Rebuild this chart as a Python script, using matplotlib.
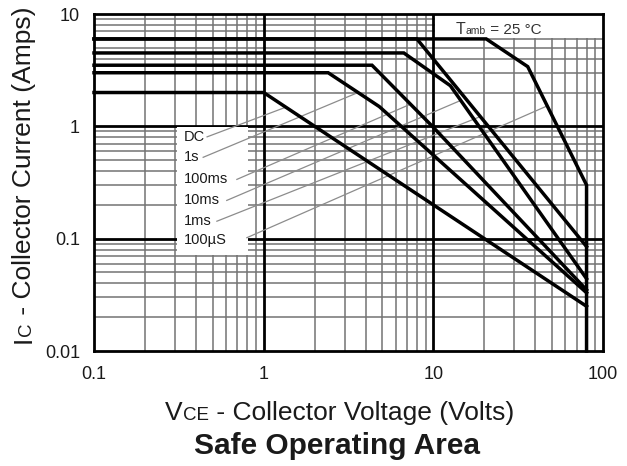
import matplotlib
matplotlib.use("Agg")
import matplotlib.pyplot as plt
from matplotlib.patches import Rectangle
from matplotlib.ticker import LogLocator, FixedLocator, FixedFormatter, NullFormatter

plt.rcParams['font.family'] = ['Liberation Sans', 'DejaVu Sans']

# SOA curves (volts, amps)
dc_v = [0.1, 1.0, 80]
dc_i = [2.0, 2.0, 0.025]
s1_v = [0.1, 2.4, 4.8, 80]
s1_i = [3.0, 3.0, 1.5, 0.033]
ms100_v = [0.1, 4.35, 10, 80]
ms100_i = [3.5, 3.5, 0.98, 0.035]
ms10_v = [0.1, 6.7, 12.6, 80]
ms10_i = [4.5, 4.5, 2.3, 0.044]
ms1_v = [0.1, 8.0, 80]
ms1_i = [6.0, 6.0, 0.085]
us100_v = [0.1, 20.5, 36, 80, 80]
us100_i = [6.0, 6.0, 3.4, 0.3, 0.01]

labels = ['DC', '1s', '100ms', '10ms', '1ms', '100\u00b5S']
label_i = [0.80, 0.53, 0.337, 0.219, 0.143, 0.097]
# leader lines: label end -> point on curve
lead_v0 = [0.464, 0.44, 0.695, 0.606, 0.53, 0.796]
lead_i0 = [0.806, 0.53, 0.337, 0.219, 0.143, 0.102]
lead_v1 = [1.35, 3.6, 7.3, 14.5, 18.9, 46.9]
lead_i1 = [1.48, 2.0, 1.57, 1.70, 1.22, 1.52]

x_ticks = [0.1, 1, 10, 100]
x_ticklabels = ['0.1', '1', '10', '100']
y_ticks = [0.01, 0.1, 1, 10]
y_ticklabels = ['0.01', '0.1', '1', '10']

W, H = 627, 466
fig = plt.figure(figsize=(W / 100, H / 100), dpi=100)
ax = fig.add_axes([94 / W, 1 - 351 / H, 509 / W, 337 / H])
ax.set_xscale('log')
ax.set_yscale('log')
ax.set_xlim(0.1, 100)
ax.set_ylim(0.01, 10)

txt = '#1a1a1a'
ax.xaxis.set_major_locator(FixedLocator(x_ticks))
ax.xaxis.set_major_formatter(FixedFormatter(x_ticklabels))
ax.yaxis.set_major_locator(FixedLocator(y_ticks))
ax.yaxis.set_major_formatter(FixedFormatter(y_ticklabels))
for a in (ax.xaxis, ax.yaxis):
    a.set_minor_locator(LogLocator(base=10, subs=range(2, 10)))
    a.set_minor_formatter(NullFormatter())
ax.tick_params(which='both', length=0, labelsize=13, labelcolor=txt)
ax.tick_params(axis='y', pad=10)
ax.tick_params(axis='x', pad=11)

ax.set_axisbelow(True)
ax.grid(which='minor', color='0.45', lw=1.1)
# heavy decade lines on top of the light grid
for v in x_ticks[1:-1]:
    ax.axvline(v, color='k', lw=2, zorder=0.9)
for i in y_ticks[1:-1]:
    ax.axhline(i, color='k', lw=2, zorder=0.9)
for sp in ax.spines.values():
    sp.set_linewidth(2)

# white boxes behind the annotations
ax.add_patch(Rectangle((0.309, 0.072), 0.81 - 0.309, 0.985 - 0.072,
                       facecolor='white', edgecolor='none', zorder=1))
ax.add_patch(Rectangle((10.2, 6.1), 100 - 10.2, 10 - 6.1,
                       facecolor='white', edgecolor='none', zorder=1))

for v, i in [(dc_v, dc_i), (s1_v, s1_i), (ms100_v, ms100_i),
             (ms10_v, ms10_i), (ms1_v, ms1_i), (us100_v, us100_i)]:
    ax.plot(v, i, color='k', lw=2.5, zorder=4, solid_joinstyle='miter', clip_on=False)

for k in range(len(labels)):
    ax.plot([lead_v0[k], lead_v1[k]], [lead_i0[k], lead_i1[k]],
            color='0.55', lw=0.9, zorder=3)
    ax.text(0.34, label_i[k], labels[k], ha='left', va='center',
            fontsize=10.5, color=txt, zorder=5)

renderer = fig.canvas.get_renderer()


def rich(x, y, pieces, rotation=0, color=txt):
    # place text pieces one after another on a common baseline (pixel coords)
    for s, size in pieces:
        t = fig.text(x / W, y / H, s, fontsize=size, color=color,
                     rotation=rotation, rotation_mode='anchor',
                     ha='left', va='baseline')
        bb = t.get_window_extent(renderer=renderer)
        if rotation == 0:
            x += bb.width
        else:
            y += bb.height


rich(456, H - 33.5, [('T', 11.5), ('amb', 7.5), (' = 25 \u00b0C', 11)], color='#333333')
rich(165, H - 420, [('V', 19), ('CE', 13.5), (' - Collector Voltage (Volts)', 19)])
rich(31, H - 343, [('I', 19), ('C', 13.5), (' - Collector Current (Amps)', 19)], rotation=90)
fig.text(337.5 / W, 12 / H, 'Safe Operating Area', fontsize=21.5, fontweight='bold',
         ha='center', va='baseline', color=txt)

fig.savefig('out.png', dpi=100)
